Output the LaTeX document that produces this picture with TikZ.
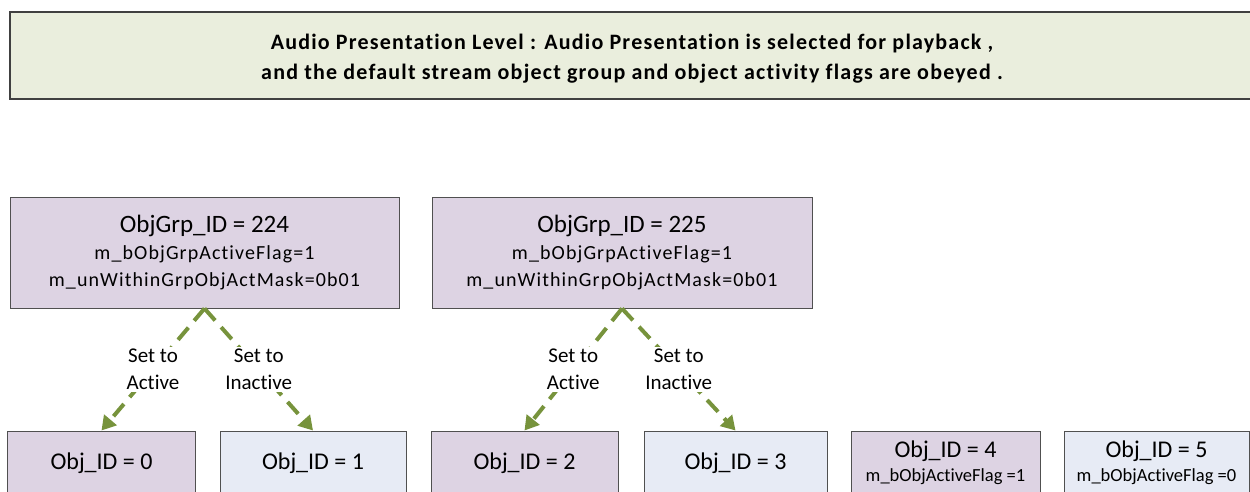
\documentclass[tikz,border=0pt]{standalone}
\usepackage{fontspec}
\setmainfont{Carlito}[Ligatures=CommonOff]
\usetikzlibrary{arrows.meta}
\definecolor{lav}{RGB}{221,211,227}
\definecolor{lblue}{RGB}{231,235,245}
\definecolor{hdrfill}{RGB}{234,238,221}
\definecolor{agreen}{RGB}{119,147,60}
\definecolor{boxline}{RGB}{80,80,80}
\definecolor{hdrline}{RGB}{64,64,64}
\newcommand{\lsp}[2]{{\addfontfeature{LetterSpace=#1}#2}}
\begin{document}
\begin{tikzpicture}[x=1pt,y=-1pt,
  hdr/.style={draw=hdrline, line width=1.5pt, fill=hdrfill, inner sep=0pt, align=center,
    font=\fontsize{22}{30}\selectfont\bfseries},
  grpbox/.style={draw=boxline, line width=1pt, fill=lav, inner sep=0pt, align=center,
    minimum width=389pt, minimum height=111pt, font=\fontsize{20}{27}\selectfont},
  objbox/.style={draw=boxline, line width=1pt, inner sep=0pt, align=center,
    minimum height=64pt, font=\fontsize{24}{26}\selectfont},
  actbox/.style={objbox, fill=lav},
  inactbox/.style={objbox, fill=lblue},
  garrow/.style={draw=agreen, line width=4pt, dash pattern=on 16pt off 9pt,
    -{Triangle[length=14pt,width=16pt]}},
  lbl/.style={fill=white, inner sep=2pt, align=center, text=black,
    font=\fontsize{21}{27}\selectfont}
]
\useasboundingbox (0,0) rectangle (1250,492);
\clip (0,0) rectangle (1250,492);

\node[hdr, minimum width=1244pt, minimum height=87pt] (hd) at (632,55.5)
  {\rule{0pt}{21pt}\lsp{5.5}{Audio Presentation Level : Audio Presentation is selected for playback ,}\\
   \lsp{5.5}{and the default stream object group and object activity flags are obeyed .}};

\node[grpbox] (g1) at (204.5,252.5)
  {{\fontsize{25}{27}\selectfont ObjGrp\_ID = 224}\\
   \lsp{5.5}{m\_bObjGrpActiveFlag=1}\\
   \lsp{5.5}{m\_unWithinGrpObjActMask=0b01}};
\node[grpbox, minimum width=380pt] (g2) at (622,252.5)
  {{\fontsize{25}{27}\selectfont ObjGrp\_ID = 225}\\
   \lsp{5.5}{m\_bObjGrpActiveFlag=1}\\
   \lsp{5.5}{m\_unWithinGrpObjActMask=0b01}};

\node[actbox, minimum width=188pt] (o0) at (101.5,463) {Obj\_ID = 0};
\node[inactbox, minimum width=186pt] (o1) at (313,463) {Obj\_ID = 1};
\node[actbox, minimum width=187pt] (o2) at (524.5,463) {Obj\_ID = 2};
\node[inactbox, minimum width=183pt] (o3) at (735.5,463) {Obj\_ID = 3};
\node[actbox, minimum width=189pt] (o4) at (945.5,463)
  {Obj\_ID = 4\\[-2pt]{\fontsize{18.5}{20}\selectfont m\_bObjActiveFlag =1}};
\node[inactbox, minimum width=185pt] (o5) at (1156.5,463)
  {Obj\_ID = 5\\[-2pt]{\fontsize{18.5}{20}\selectfont m\_bObjActiveFlag =0}};

\draw[garrow] (g1.south) -- node[lbl] {Set to\\Active} (o0.north);
\draw[garrow] (g1.south) -- node[lbl] {Set to\\Inactive} (o1.north);
\draw[garrow] (g2.south) -- node[lbl] {Set to\\Active} (o2.north);
\draw[garrow] (g2.south) -- node[lbl] {Set to\\Inactive} (o3.north);
\end{tikzpicture}
\end{document}
